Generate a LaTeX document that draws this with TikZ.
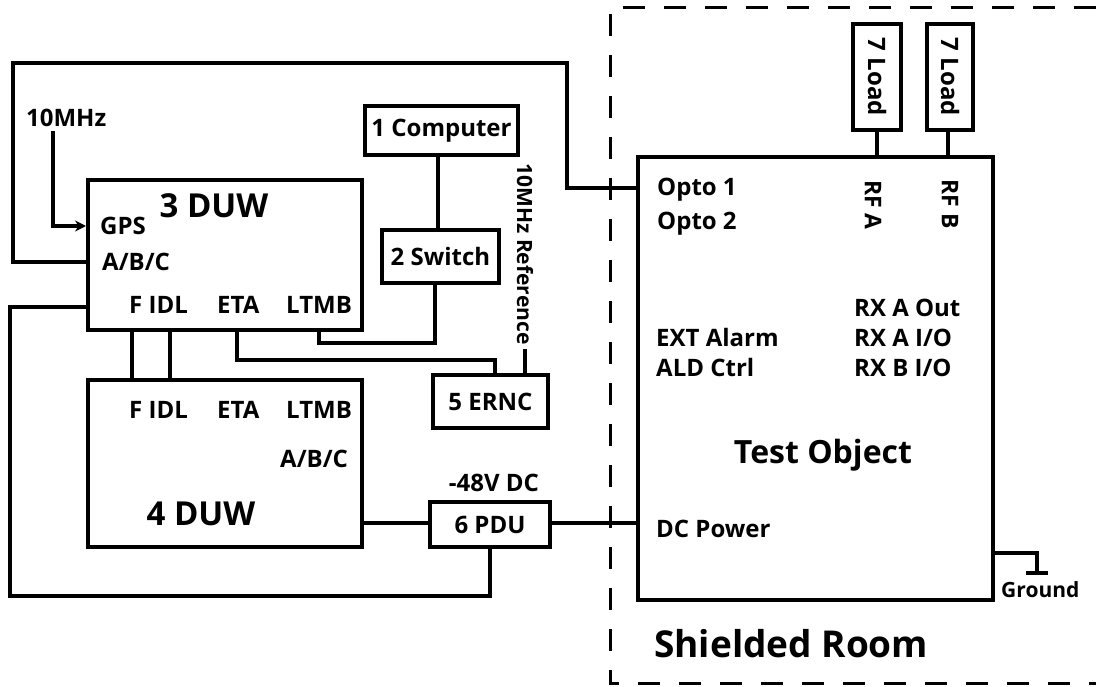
\documentclass[tikz,border=0pt]{standalone}
\usepackage{fontspec}
\setmainfont{Open Sans}
\usetikzlibrary{arrows.meta}
\tikzset{
  x=1pt,y=-1pt,
  box/.style={draw,line width=4pt,inner sep=0pt,font=\fsz{24}},
  wire/.style={line width=4pt},
  lbl/.style={inner sep=0pt,anchor=west,font=\fsz{24}},
  room/.style={line width=3pt,dash pattern=on 22pt off 19pt}
}
\newcommand{\fsz}[1]{\fontsize{#1}{#1}\selectfont\bfseries}
\begin{document}
\begin{tikzpicture}
\useasboundingbox (0,0) rectangle (1096,687);
% shielded room
\draw[room] (1096,8) -- (610,8) -- (610,683) -- (1096,683);
% boxes
\node[box,minimum width=274pt,minimum height=150pt] (duw3) at (225,255) {};
\node[box,minimum width=274pt,minimum height=167pt] (duw4) at (225,463.5) {};
\node[box,minimum width=153pt,minimum height=49pt] (comp) at (441.5,130.5) {1 Computer};
\node[box,minimum width=117pt,minimum height=53pt] (sw) at (440.5,256.5) {2 Switch};
\node[box,minimum width=115pt,minimum height=53pt] (ernc) at (490.5,401.5) {5 ERNC};
\node[box,minimum width=120pt,minimum height=45pt] (pdu) at (490,524.5) {6 PDU};
\node[box,minimum width=355pt,minimum height=443pt] (test) at (815.5,378.5) {};
\node[box,minimum width=48pt,minimum height=106pt] (loada) at (877,77) {};
\node[box,minimum width=46pt,minimum height=106pt] (loadb) at (950,77) {};
\node[rotate=-90,font=\fsz{24},inner sep=0pt] (la) at (loada.center) {7 Load};
\node[rotate=-90,font=\fsz{24},inner sep=0pt] (lb) at (loadb.center) {7 Load};
% labels in 3 DUW
\node[inner sep=0pt,font=\fsz{33}] (t3) at (214,206) {3 DUW};
\node[lbl] (gps) at (100,226) {GPS};
\node[lbl] (abc3) at (102,262) {A/B/C};
\node[lbl] (f3) at (129,305) {F IDL};
\node[lbl] (eta3) at (217,305) {ETA};
\node[lbl] (lt3) at (286,305) {LTMB};
% labels in 4 DUW
\node[lbl] (f4) at (129,410) {F IDL};
\node[lbl] (eta4) at (217,410) {ETA};
\node[lbl] (lt4) at (286,410) {LTMB};
\node[lbl] (abc4) at (280,459) {A/B/C};
\node[inner sep=0pt,font=\fsz{33}] (t4) at (201,514) {4 DUW};
% test object labels
\node[lbl] (o1) at (657,190) {Opto 1};
\node[lbl] (o2) at (657,224) {Opto 2};
\node[rotate=-90,inner sep=0pt,font=\fsz{23}] (rfa) at (873,205) {RF A};
\node[rotate=-90,inner sep=0pt,font=\fsz{23}] (rfb) at (950,204) {RF B};
\node[lbl] (ext) at (656,338) {EXT Alarm};
\node[lbl] (ald) at (656,367) {ALD Ctrl};
\node[lbl] (rxo) at (854,308) {RX A Out};
\node[lbl] (rxa) at (854,338) {RX A I/O};
\node[lbl] (rxb) at (854,368) {RX B I/O};
\node[inner sep=0pt,font=\fsz{32}] (tobj) at (823,455) {Test Object};
\node[lbl] (dcp) at (656,529) {DC Power};
\node[lbl,font=\fsz{21}] (gnd) at (1001,590) {Ground};
\node[lbl,font=\fsz{37}] (sr) at (654,644) {Shielded Room};
\node[inner sep=0pt,font=\fsz{24}] (v48) at (494,483) {-48V DC};
\node[lbl] (mhz) at (26,118) {10MHz};
% connectors
\coordinate (m0) at (53,131);
\draw[wire,-{Stealth[length=11pt,width=11pt]}] (m0) |- (duw3.west |- gps);
\draw[wire] (duw3.west |- 0,262) -- (13,262) -- (13,63) -- (567,63) -- (567,188) -- (test.west |- 0,188);
\draw[wire] (duw3.west |- 0,307) -- (10,307) -- (10,596) -| (pdu.south);
\draw[wire] (duw3.south -| 132,0) -- (duw4.north -| 132,0);
\draw[wire] (duw3.south -| 170,0) -- (duw4.north -| 170,0);
\draw[wire] (duw3.south -| 237,0) -- (237,360) -- (495,360) -- (ernc.north -| 495,0);
\draw[wire] (duw3.south -| 319,0) -- (319,343) -- (435,343) -- (sw.south -| 435,0);
\draw[wire] (comp.south -| 438,0) -- (sw.north -| 438,0);
\coordinate (r0) at (525,349);
\draw[wire] (ernc.north -| 525,0) -- (r0);
\node[rotate=-90,inner sep=0pt,font=\fsz{21}] (ref) at (525,254) {10MHz Reference};
\draw[wire] (duw4.east |- 0,523) -- (pdu.west |- 0,523);
\draw[wire] (pdu.east |- 0,523) -- (test.west |- 0,523);
\draw[wire] (loada.south -| 877,0) -- (test.north -| 877,0);
\draw[wire] (loadb.south -| 948,0) -- (test.north -| 948,0);
\coordinate (g0) at (1037,573);
\draw[wire] (test.east |- 0,553) -- (1037,553) -- (g0);
\draw[wire] (1026,573) -- (1048,573);
\end{tikzpicture}
\end{document}
